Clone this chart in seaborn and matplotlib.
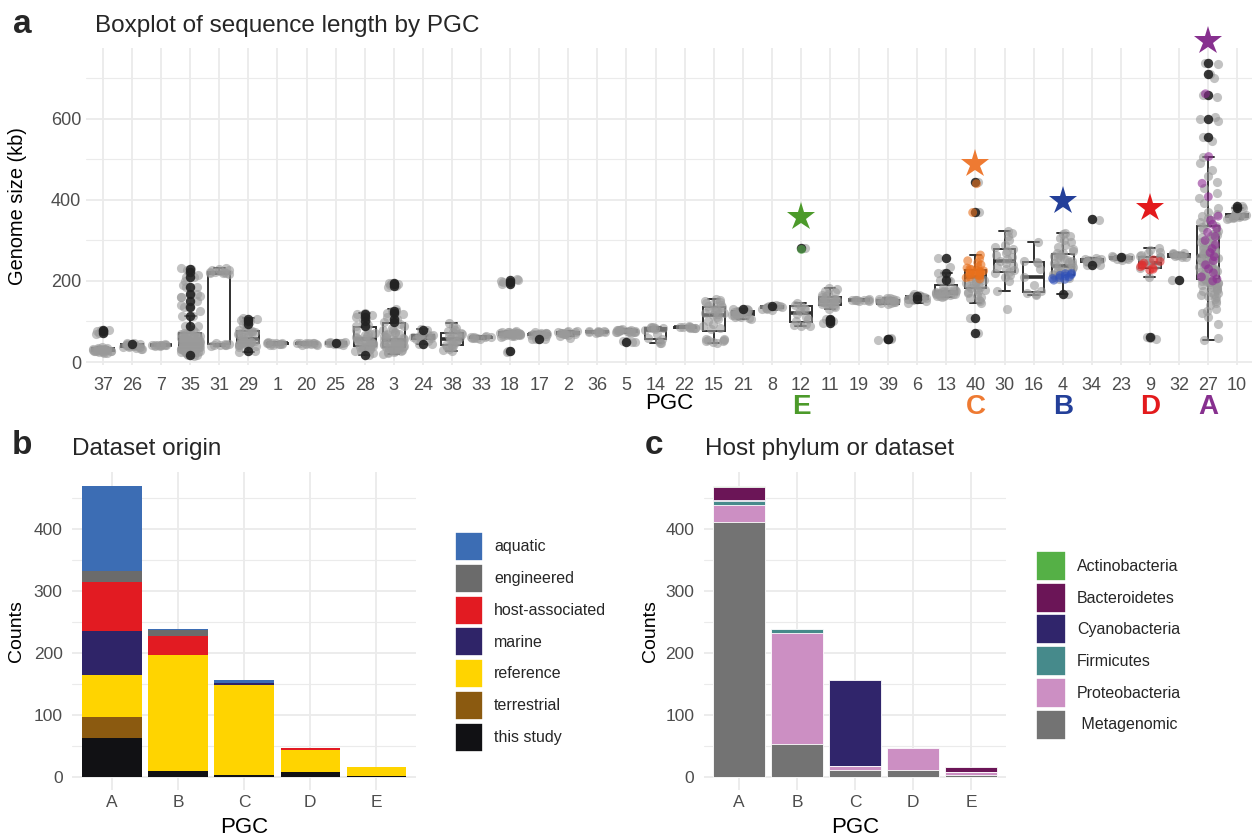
import numpy as np
import pandas as pd
import matplotlib
matplotlib.use("Agg")
import matplotlib.pyplot as plt
import matplotlib.transforms as mtransforms
from matplotlib.patches import Patch
from matplotlib.ticker import MultipleLocator
import seaborn as sns

# ---------------- data: panel a ----------------
PGC_ORDER = ["37", "26", "7", "35", "31", "29", "1", "20", "25", "28", "3", "24", "38", "33",
             "18", "17", "2", "36", "5", "14", "22", "15", "21", "8", "12", "11", "19", "39",
             "6", "13", "40", "30", "16", "4", "34", "23", "9", "32", "27", "10"]

GRAY_KB = {
    "37": [22, 23, 24, 25, 26, 26, 27, 27, 28, 28, 29, 29, 30, 30, 30, 31, 31, 32, 32, 33, 34, 35, 36, 69, 74, 78],
    "26": [31, 33, 35, 36, 37, 38, 38, 39, 40, 40, 41, 41, 42, 42, 43, 44, 45, 46, 48],
    "7": [39, 40, 41, 41, 42, 42, 42, 43, 43, 44],
    "35": [16, 18, 19, 20, 21, 22, 23, 24, 25, 26, 27, 28, 28, 29, 30, 30, 31, 32, 32, 33, 34, 34, 35, 35, 36, 36,
           37, 37, 38, 38, 39, 39, 40, 40, 41, 41, 42, 42, 43, 43, 44, 44, 45, 45, 46, 47, 48, 49, 50, 51, 52, 53,
           55, 56, 58, 60, 62, 64, 66, 68, 70, 72, 75, 78, 82, 90, 113, 125, 135, 140, 160, 160, 163, 167, 184,
           190, 200, 210, 215, 228, 233,
           24, 27, 29, 31, 33, 34, 36, 38, 39, 41, 42, 44, 45, 47, 48, 50, 52, 54, 57, 59, 61, 63, 65, 67, 69],
    "31": [40, 41, 42, 42, 43, 44, 45, 46, 218, 219, 220, 220, 221, 222, 223, 224, 226, 228, 230, 232],
    "29": [25, 36, 38, 40, 41, 42, 43, 44, 45, 46, 47, 48, 48, 49, 50, 50, 51, 52, 53, 55, 58, 62, 65, 68, 70, 72,
           72, 73, 74, 75, 76, 78, 80, 88, 95, 100, 104, 108],
    "1": [42, 43, 44, 45, 45, 46, 46, 47, 48, 48, 49],
    "20": [41, 43, 44, 45, 45, 46, 46, 46, 47, 47, 48],
    "25": [43, 44, 45, 46, 46, 47, 47, 48, 48, 49, 50],
    "28": [22, 26, 28, 30, 31, 32, 33, 35, 36, 38, 39, 40, 42, 44, 45, 46, 48, 50, 52, 54, 55, 57, 58, 60, 62, 64,
           66, 68, 70, 72, 80, 85, 88, 92, 100, 110, 115, 118, 122],
    "3": [20, 22, 24, 25, 26, 28, 29, 30, 31, 32, 33, 34, 35, 36, 37, 38, 39, 40, 41, 42, 43, 44, 45, 46, 47, 48,
          49, 50, 52, 54, 55, 56, 58, 60, 62, 64, 66, 68, 70, 72, 75, 78, 80, 84, 88, 95, 105, 110, 118, 126, 130,
          186, 190, 192, 195],
    "24": [44, 52, 55, 58, 60, 62, 63, 64, 65, 66, 68, 70, 81],
    "38": [27, 30, 33, 36, 38, 40, 42, 45, 48, 50, 52, 55, 58, 60, 62, 65, 68, 70, 72, 75, 77, 80, 85, 90, 97],
    "33": [58, 59, 60, 60, 61, 61, 62, 62, 63],
    "18": [25, 28, 62, 63, 64, 65, 66, 66, 67, 67, 68, 68, 68, 69, 69, 69, 70, 70, 70, 71, 71, 71, 72, 72, 73, 73,
           74, 75, 76, 195, 200, 205],
    "17": [56, 58, 65, 66, 67, 68, 68, 69, 69, 70, 70, 71, 71, 72, 73],
    "2": [60, 64, 66, 68, 69, 70, 70, 71, 72, 72, 73, 74, 75, 76, 77],
    "36": [72, 73, 74, 74, 75, 75, 76, 76, 77],
    "5": [49, 51, 52, 72, 73, 74, 74, 75, 75, 76, 76, 77, 77, 78, 78, 79, 79, 80, 80, 81],
    "14": [46, 48, 52, 56, 60, 70, 78, 82, 84, 85, 85, 86, 86],
    "22": [83, 84, 85, 85, 86, 86, 87, 87, 88],
    "15": [48, 50, 52, 53, 54, 55, 56, 58, 82, 85, 90, 95, 100, 105, 110, 115, 118, 120, 122, 125, 128, 130, 132,
           135, 138, 140, 143, 145, 148, 150, 152, 155],
    "21": [105, 108, 110, 112, 113, 115, 116, 117, 118, 119, 120, 121, 122, 123, 124, 125, 126, 128, 130, 132],
    "8": [128, 130, 132, 133, 134, 135, 136, 137, 138, 140],
    "12": [88, 90, 92, 95, 100, 105, 110, 118, 125, 130, 134, 137, 140, 145],
    "11": [130, 135, 138, 140, 142, 144, 145, 146, 147, 148, 149, 150, 151, 152, 153, 155, 156, 158, 160, 162, 165,
           168, 172, 176, 180, 183],
    "19": [150, 151, 152, 152, 153, 153, 154, 154, 155],
    "39": [55, 59, 143, 145, 146, 147, 148, 150, 151, 152, 153, 154, 155, 156, 157, 158],
    "6": [145, 150, 152, 155, 156, 157, 158, 159, 160, 161, 162, 163, 164, 165, 168],
    "13": [160, 162, 163, 164, 165, 166, 167, 168, 169, 170, 171, 172, 173, 174, 175, 176, 177, 178, 180, 182, 200,
           202, 219, 235],
    "40": [145, 150, 153, 158, 160, 165, 170, 172, 175, 178, 180, 182, 185, 188, 190, 192, 195, 198, 200, 202, 205,
           208],
    "30": [132, 175, 200, 210, 215, 220, 223, 226, 230, 235, 240, 245, 250, 255, 260, 265, 270, 275, 280, 283, 290,
           300, 310, 318, 324],
    "16": [165, 168, 170, 175, 190, 210, 230, 245, 248, 250, 297],
    "4": [205, 208, 210, 212, 215, 218, 220, 222, 225, 228, 230, 232, 235, 238, 240, 242, 245, 248, 250, 252, 255,
          258, 260, 262, 265, 268, 270, 275, 280, 285, 290, 295, 300, 305, 310, 315, 318],
    "34": [240, 244, 246, 248, 250, 251, 252, 253, 254, 256, 350],
    "23": [252, 254, 255, 256, 257, 258, 259, 260, 262],
    "9": [58, 60, 62, 211, 232, 240, 245, 248, 252, 255, 258, 260, 262, 265, 268, 272, 276, 281],
    "32": [202, 258, 260, 262, 263, 264, 265, 266, 267, 268, 270],
    "27": [54, 60, 95, 110, 120, 125, 130, 140, 145, 150, 155, 160, 162, 165, 168, 170, 172, 175, 178, 180, 182,
           185, 188, 190, 192, 194, 195, 196, 197, 198, 199,
           200, 202, 204, 206, 208, 210, 212, 214, 216, 218, 220, 222, 224, 226, 228, 230, 232, 234, 236, 238, 240,
           242, 244, 246, 248, 250, 252, 254, 256, 258, 260, 262, 264, 266, 268, 270, 272, 274, 276, 278, 280, 282,
           284, 286, 288, 290, 293, 296, 299, 302, 305, 308, 311, 314, 317, 320, 324, 328, 332, 336, 340, 345, 350,
           355, 360, 365, 370,
           380, 392, 405, 418, 430, 445, 460, 475, 490, 505, 545, 595, 605, 655, 700, 735],
    "10": [352, 355, 356, 357, 358, 359, 360, 361, 362, 363, 365, 368, 380],
}

DARK_KB = {
    "37": [72, 76, 80], "26": [45], "35": [17, 90, 113, 135, 150, 167, 184, 210, 222, 230],
    "29": [27, 95, 100, 106], "25": [46], "28": [18, 88, 100, 112, 118], "3": [98, 105, 120, 126, 188, 193, 196],
    "24": [45, 78], "18": [27, 192, 198, 203], "17": [57], "5": [50], "21": [130], "8": [138], "12": [282],
    "11": [97, 100, 104, 106], "39": [56, 58], "6": [155, 162], "13": [202, 219, 256], "40": [72, 108, 369, 445],
    "4": [168], "34": [240, 352], "23": [258], "9": [61], "32": [202], "27": [556, 600, 659, 711, 739],
    "10": [380, 385],
}

HIGHLIGHT_KB = {
    "12": [280],
    "40": [205, 208, 210, 212, 214, 215, 216, 218, 219, 220, 221, 222, 223, 224, 225, 226, 228, 230, 232, 235, 240,
           245, 250, 255, 264, 369, 440],
    "4": [202, 204, 206, 208, 210, 212, 214, 216, 218, 219],
    "9": [227, 229, 232, 235, 238, 240, 244, 248, 252],
    "27": [200, 205, 210, 220, 230, 240, 250, 260, 270, 280, 290, 300, 310, 320, 330, 340, 350, 360, 408, 441, 507,
           662],
}
HIGHLIGHT_LETTER = {"12": "E", "40": "C", "4": "B", "9": "D", "27": "A"}
HIGHLIGHT_COLOR = {"12": "#4C9A2A", "40": "#EE7A32", "4": "#233F99", "9": "#E31A1C", "27": "#87308F"}
POINT_COLOR = {"12": "#55B04A", "40": "#E8701C", "4": "#3050B8", "9": "#E03030", "27": "#8E2C94"}
STAR_KB = {"12": 358, "40": 488, "4": 398, "9": 381, "27": 792}

# ---------------- data: panels b and c ----------------
PGC_LETTERS = ["A", "B", "C", "D", "E"]
ORIGIN_CATS = ["aquatic", "engineered", "host-associated", "marine", "reference", "terrestrial", "this study"]
ORIGIN_COLORS = ["#3C6DB4", "#6B6B6B", "#E21B22", "#2F2468", "#FFD400", "#8B5A10", "#111114"]
ORIGIN_COUNTS = {
    "aquatic": [137, 1, 5, 0, 0],
    "engineered": [18, 9, 0, 0, 0],
    "host-associated": [79, 32, 0, 3, 0],
    "marine": [72, 0, 3, 0, 0],
    "reference": [68, 186, 144, 36, 15],
    "terrestrial": [33, 0, 0, 0, 0],
    "this study": [63, 10, 4, 8, 1],
}
HOST_CATS = ["Actinobacteria", "Bacteroidetes", "Cyanobacteria", "Firmicutes", "Proteobacteria", "Metagenomic"]
HOST_LABELS = ["Actinobacteria", "Bacteroidetes", "Cyanobacteria", "Firmicutes", "Proteobacteria", " Metagenomic"]
HOST_COLORS = ["#55B046", "#6B1557", "#30256B", "#468A8B", "#CC8FC3", "#737373"]
HOST_COUNTS = {
    "Actinobacteria": [2, 0, 0, 0, 0],
    "Bacteroidetes": [21, 0, 0, 0, 8],
    "Cyanobacteria": [2, 0, 139, 0, 0],
    "Firmicutes": [6, 5, 0, 0, 0],
    "Proteobacteria": [28, 179, 5, 35, 5],
    "Metagenomic": [411, 54, 12, 12, 3],
}

# ---------------- style ----------------
sns.set_theme(style="whitegrid")
FONT = ["Liberation Sans", "DejaVu Sans"]
plt.rcParams["font.family"] = FONT
GRID = "#EBEBEB"
TICK_C = "#4D4D4D"
W, H = 1252, 838

fig = plt.figure(figsize=(W / 100, H / 100), dpi=100)
fig.patch.set_facecolor("white")


def rect(x0, y0, x1, y1):
    return [x0 / W, 1 - y1 / H, (x1 - x0) / W, (y1 - y0) / H]


def style_axes(ax, minor_step, tick_size, xpad, ypad):
    ax.set_facecolor("white")
    for s in ax.spines.values():
        s.set_visible(False)
    ax.yaxis.set_minor_locator(MultipleLocator(minor_step))
    ax.grid(True, which="major", color=GRID, linewidth=1.3)
    ax.grid(True, which="minor", axis="y", color=GRID, linewidth=0.8)
    ax.grid(False, which="minor", axis="x")
    ax.set_axisbelow(True)
    ax.tick_params(axis="both", which="both", length=0, labelsize=tick_size, labelcolor=TICK_C)
    ax.tick_params(axis="x", pad=xpad)
    ax.tick_params(axis="y", pad=ypad)


# ---------------- panel a ----------------
axA = fig.add_axes(rect(85.5, 48, 1252, 365))

rows_all, rows_gray, rows_dark, rows_hl = [], [], [], []
for p in PGC_ORDER:
    g = GRAY_KB.get(p, [])
    d = DARK_KB.get(p, [])
    h = HIGHLIGHT_KB.get(p, [])
    rows_all += [(p, v) for v in g + d + h]
    rows_gray += [(p, v) for v in g + d]
    rows_dark += [(p, v) for v in d]
    rows_hl += [(p, v) for v in h]
df_all = pd.DataFrame(rows_all, columns=["PGC", "kb"])
df_gray = pd.DataFrame(rows_gray, columns=["PGC", "kb"])
df_dark = pd.DataFrame(rows_dark, columns=["PGC", "kb"])
df_hl = pd.DataFrame(rows_hl, columns=["PGC", "kb"])

np.random.seed(3)
sns.boxplot(data=df_all, x="PGC", y="kb", order=PGC_ORDER, color="white", linecolor="#303030",
            linewidth=1.4, width=0.75, showfliers=False, saturation=1,
            medianprops=dict(linewidth=2.6), ax=axA)
sns.stripplot(data=df_gray, x="PGC", y="kb", order=PGC_ORDER, color="#9A9A9A", alpha=0.6, size=6.6,
              jitter=0.36, linewidth=0, ax=axA)
sns.stripplot(data=df_dark, x="PGC", y="kb", order=PGC_ORDER, color="#222222", alpha=0.9, size=6.8,
              jitter=False, linewidth=0, ax=axA)
sns.stripplot(data=df_hl, x="PGC", y="kb", order=PGC_ORDER, hue="PGC", palette=POINT_COLOR, alpha=0.6,
              size=6.4, jitter=0.36, linewidth=0, legend=False, ax=axA)

for p, kb in STAR_KB.items():
    axA.plot(PGC_ORDER.index(p), kb, marker="*", markersize=21, color=HIGHLIGHT_COLOR[p],
             markeredgewidth=0, clip_on=False, zorder=6)

trans = mtransforms.blended_transform_factory(axA.transData, axA.transAxes)
for p, letter in HIGHLIGHT_LETTER.items():
    axA.text(PGC_ORDER.index(p), -0.1325, letter, transform=trans, ha="center", va="center",
             fontsize=20, fontweight="bold", color=HIGHLIGHT_COLOR[p])

axA.set_xlim(-0.6, 39.51)
axA.set_ylim(-7.4, 775)
axA.set_yticks([0, 200, 400, 600])
style_axes(axA, 100, 13, 8.5, 3)
axA.set_xlabel("PGC", fontsize=16, color="black")
axA.xaxis.set_label_coords(0.5, -0.123)
axA.xaxis.label.set_va("center")
axA.set_ylabel("Genome size (kb)", fontsize=14.4, color="black")
axA.yaxis.set_label_coords((18 - 85.5) / (1252 - 85.5), 0.5)
axA.yaxis.label.set_va("center")


# ---------------- stacked bar helper ----------------
def stacked(ax, cats, counts, colors, edge_lw):
    stack_order = list(reversed(cats))  # bottom -> top
    cum = np.zeros(len(PGC_LETTERS))
    cums = []
    for c in stack_order:
        cum = cum + np.array(counts[c], dtype=float)
        cums.append((c, cum.copy()))
    for c, cv in reversed(cums):
        sns.barplot(x=PGC_LETTERS, y=cv, order=PGC_LETTERS, color=colors[cats.index(c)], saturation=1,
                    width=0.9, edgecolor="white", linewidth=edge_lw, ax=ax)
    ax.set_xlim(-0.6, 4.6)
    ax.set_ylim(-21, 492)
    ax.set_yticks([0, 100, 200, 300, 400])


# ---------------- panel b ----------------
axB = fig.add_axes(rect(72.4, 472, 416, 790))
stacked(axB, ORIGIN_CATS, ORIGIN_COUNTS, ORIGIN_COLORS, 0)
style_axes(axB, 50, 12.5, 3.5, 7)
axB.set_xlabel("PGC", fontsize=16, color="black")
axB.xaxis.set_label_coords(0.5, (790 - 827) / 318)
axB.xaxis.label.set_va("center")
axB.set_ylabel("Counts", fontsize=14, color="black")
axB.yaxis.set_label_coords((17 - 72.4) / 343.6, 0.5)
axB.yaxis.label.set_va("center")

handles_b = [Patch(facecolor=c, edgecolor="white", linewidth=1.2, label=l)
             for l, c in zip(ORIGIN_CATS, ORIGIN_COLORS)]
fig.legend(handles=handles_b, loc="upper left", bbox_to_anchor=(455 / W, 1 - 532 / H),
           frameon=False, fontsize=11.5, handlelength=1.75, handleheight=2.42, labelspacing=0.17,
           handletextpad=0.7, borderpad=0, borderaxespad=0)

# ---------------- panel c ----------------
axC = fig.add_axes(rect(704, 472, 1006, 790))
stacked(axC, HOST_CATS, HOST_COUNTS, HOST_COLORS, 0.6)
style_axes(axC, 50, 12.5, 3.5, 7)
axC.set_xlabel("PGC", fontsize=16, color="black")
axC.xaxis.set_label_coords(0.5, (790 - 827) / 318)
axC.xaxis.label.set_va("center")
axC.set_ylabel("Counts", fontsize=14, color="black")
axC.yaxis.set_label_coords((651 - 704) / 302, 0.5)
axC.yaxis.label.set_va("center")

handles_c = [Patch(facecolor=c, edgecolor="white", linewidth=1.2, label=l)
             for l, c in zip(HOST_LABELS, HOST_COLORS)]
fig.legend(handles=handles_c, loc="upper left", bbox_to_anchor=(1036 / W, 1 - 551 / H),
           frameon=False, fontsize=11.5, handlelength=1.88, handleheight=2.51, labelspacing=0.11,
           handletextpad=0.7, borderpad=0, borderaxespad=0)

# ---------------- titles ----------------
fig.text(13 / W, 1 - 33 / H, "a", fontsize=24, fontweight="bold", va="baseline", ha="left")
fig.text(95 / W, 1 - 32 / H, "Boxplot of sequence length by PGC", fontsize=17.5, va="baseline", ha="left")
fig.text(12 / W, 1 - 454 / H, "b", fontsize=24, fontweight="bold", va="baseline", ha="left")
fig.text(72 / W, 1 - 455 / H, "Dataset origin", fontsize=17.5, va="baseline", ha="left")
fig.text(645 / W, 1 - 454 / H, "c", fontsize=24, fontweight="bold", va="baseline", ha="left")
fig.text(705 / W, 1 - 455 / H, "Host phylum or dataset", fontsize=17.5, va="baseline", ha="left")

fig.savefig("out.png", dpi=100, facecolor="white")
